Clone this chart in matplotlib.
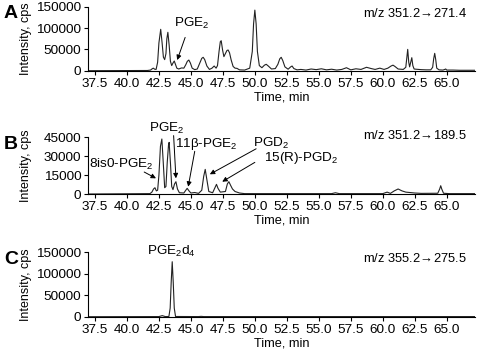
import matplotlib
matplotlib.use("Agg")
import matplotlib.pyplot as plt

plt.rcParams['font.family'] = ['Liberation Sans', 'DejaVu Sans']
plt.rcParams['font.size'] = 9
plt.rcParams['mathtext.default'] = 'regular'

# panel A: m/z 351.2 -> 271.4
a_time = [37.0, 41.6, 41.85, 41.95, 42.06, 42.17, 42.28, 42.4, 42.5, 42.64, 42.75, 42.85,
          42.95, 43.05, 43.12, 43.2, 43.3, 43.4, 43.5, 43.6, 43.7, 43.8, 43.9, 44.05,
          44.27, 44.45, 44.6, 44.72, 44.84, 44.96, 45.1, 45.3, 45.5, 45.7, 45.85, 45.96,
          46.08, 46.25, 46.45, 46.65, 46.82, 46.97, 47.08, 47.2, 47.3, 47.37, 47.48, 47.58,
          47.7, 47.82, 47.91, 48.02, 48.15, 48.3, 48.45, 48.6, 48.8, 49.2, 49.6, 49.8,
          49.9, 50.0, 50.1, 50.2, 50.35, 50.55, 50.75, 50.89, 51.05, 51.3, 51.6, 51.8,
          51.95, 52.06, 52.18, 52.35, 52.6, 52.8, 52.91, 53.05, 53.3, 53.6, 54.0, 54.4,
          54.8, 55.2, 55.6, 56.0, 56.4, 56.8, 57.16, 57.5, 57.9, 58.3, 58.73, 59.1, 59.4,
          59.77, 60.1, 60.4, 60.65, 60.8, 60.95, 61.2, 61.6, 61.8, 61.88, 61.95, 62.03,
          62.1, 62.17, 62.27, 62.35, 62.45, 62.6, 63.0, 63.4, 63.75, 63.9, 63.98, 64.06,
          64.14, 64.22, 64.4, 64.7, 64.85, 64.92, 65.0, 65.5, 66.0, 67.2]
a_int = [0, 500, 1500, 4000, 6000, 3500, 3000, 20000, 65000, 97000, 65000, 32000,
         26000, 40000, 75000, 90000, 60000, 22000, 12000, 18000, 22700, 14000, 6000, 4000,
         6500, 6000, 14000, 22000, 25000, 18000, 6000, 2500, 4000, 18000, 29000, 31400,
         26000, 11000, 3000, 6000, 11000, 6000, 12000, 45000, 68000, 70300, 48000, 33000,
         40000, 47500, 48500, 42000, 25000, 10000, 6000, 5500, 2000, 1500, 6000, 45000,
         110000, 142000, 110000, 45000, 12000, 7000, 13000, 15000, 11000, 4000, 5000, 15000,
         28000, 31400, 24000, 9000, 3500, 9000, 11000, 5000, 2000, 3000, 1500, 4000,
         2500, 4500, 2000, 3500, 1500, 3000, 7000, 2000, 4500, 3000, 8000, 5000, 3000,
         6000, 3000, 6000, 11000, 13000, 10000, 4000, 3000, 8000, 30000, 50000, 20000,
         9000, 18000, 30500, 12000, 4000, 3500, 2500, 2000, 2000, 8000, 28000, 40700,
         26000, 6000, 2000, 1500, 3000, 4000, 1500, 1500, 1000, 1000]

# panel B: m/z 351.2 -> 189.5
b_time = [37.0, 41.8, 41.95, 42.08, 42.19, 42.3, 42.4, 42.5, 42.62, 42.73, 42.84, 42.95,
          43.05, 43.15, 43.25, 43.3, 43.4, 43.5, 43.6, 43.72, 43.83, 43.95, 44.1, 44.45,
          44.6, 44.71, 44.85, 45.0, 45.3, 45.6, 45.85, 46.0, 46.12, 46.24, 46.4, 46.7,
          46.88, 47.0, 47.12, 47.3, 47.7, 47.85, 47.97, 48.1, 48.25, 48.45, 48.8, 49.2,
          56.0, 56.3, 56.6, 60.0, 60.34, 60.6, 60.9, 61.2, 61.5, 61.8, 62.1, 62.5, 63.0,
          64.3, 64.45, 64.53, 64.61, 64.75, 65.2, 67.2]
b_int = [0, 300, 1500, 4000, 5000, 2500, 3000, 15000, 38000, 43800, 25000, 5000,
         6000, 25000, 39000, 41100, 25000, 6000, 3500, 8000, 9800, 4000, 1000, 800,
         3000, 4500, 2500, 800, 1200, 500, 3000, 14000, 19600, 12000, 2000, 1000,
         5000, 7700, 4500, 1500, 2000, 8000, 9800, 7000, 4000, 2000, 800, 300,
         300, 1000, 300, 300, 1500, 500, 2500, 4000, 2500, 1500, 1200, 800, 500,
         600, 4000, 6600, 4000, 600, 300, 300]

# panel C: m/z 355.2 -> 275.5
c_time = [37.0, 42.5, 42.76, 43.0, 43.28, 43.38, 43.46, 43.54, 43.62, 43.7, 43.8,
          45.6, 45.8, 46.0, 66.0, 67.2]
c_int = [0, 300, 2500, 300, 500, 20000, 80000, 128000, 80000, 20000, 500,
         300, 800, 300, 300, 300]

x_ticks = [37.5, 40.0, 42.5, 45.0, 47.5, 50.0, 52.5, 55.0, 57.5, 60.0, 62.5, 65.0]

fig = plt.figure(figsize=(4.82, 3.53), dpi=100)
axA = fig.add_axes([0.1832, 0.7997, 0.802, 0.1813])
axB = fig.add_axes([0.1832, 0.4504, 0.802, 0.1601])
axC = fig.add_axes([0.1832, 0.1028, 0.802, 0.1825])

arr = '$\\!\\rightarrow\\!$'
panels = [
    (axA, a_time, a_int, [0, 50000, 100000, 150000], 150000, 'A', 'm/z 351.2' + arr + '271.4', 133000),
    (axB, b_time, b_int, [0, 15000, 30000, 45000], 45000, 'B', 'm/z 351.2' + arr + '189.5', 46400),
    (axC, c_time, c_int, [0, 50000, 100000, 150000], 150000, 'C', 'm/z 355.2' + arr + '275.5', 136000),
]
for ax, t, y, yt, ytop, letter, mz, mz_y in panels:
    ax.plot(t, y, color='#222222', lw=0.8)
    ax.set_xlim(36.98, 67.2)
    ax.set_ylim(0, ytop)
    ax.set_xticks(x_ticks)
    ax.set_xticklabels([f'{v:.1f}' for v in x_ticks])
    ax.set_yticks(yt)
    ax.spines['top'].set_visible(False)
    ax.spines['right'].set_visible(False)
    ax.tick_params(length=3, width=0.8, pad=2, labelsize=9.7)
    ax.set_xlabel('Time, min', labelpad=1, fontsize=9.2)
    ax.set_ylabel('Intensity, cps', fontsize=9)
    ax.yaxis.set_label_coords(-0.146, 0.5)
    ax.text(66.6, mz_y, mz, ha='right', va='center', fontsize=9.3)
    pos = ax.get_position()
    fig.text(0.008, pos.y1 + 0.004, letter, fontsize=14, fontweight='bold', va='top')

arrow = dict(arrowstyle='-|>', lw=0.7, color='k', mutation_scale=7, shrinkA=0, shrinkB=0)
fs = 9.7

# panel A label
axA.text(45.05, 111000, 'PGE$_2$', ha='center', va='center', fontsize=fs)
axA.annotate('', xy=(43.93, 25000), xytext=(44.55, 78000), arrowprops=arrow)

# panel B labels
axB.text(43.1, 52300, 'PGE$_2$', ha='center', va='center', fontsize=fs)
axB.annotate('', xy=(43.83, 12500), xytext=(43.65, 46500), arrowprops=arrow, annotation_clip=False)
axB.text(39.58, 23600, '8is0-PGE$_2$', ha='center', va='center', fontsize=fs)
axB.annotate('', xy=(42.27, 12500), xytext=(41.35, 17500), arrowprops=arrow)
axB.text(46.23, 39500, '11\u03b2-PGE$_2$', ha='center', va='center', fontsize=fs)
axB.annotate('', xy=(44.79, 5800), xytext=(45.3, 34000), arrowprops=arrow)
axB.text(51.3, 40300, 'PGD$_2$', ha='center', va='center', fontsize=fs)
axB.annotate('', xy=(46.48, 15700), xytext=(50.1, 36000), arrowprops=arrow)
axB.text(53.6, 28400, '15(R)-PGD$_2$', ha='center', va='center', fontsize=fs)
axB.annotate('', xy=(47.45, 9800), xytext=(50.0, 25200), arrowprops=arrow)

# panel C label
axC.text(43.44, 153000, 'PGE$_2$d$_4$', ha='center', va='center', fontsize=fs)

fig.savefig('out.png', dpi=100)
